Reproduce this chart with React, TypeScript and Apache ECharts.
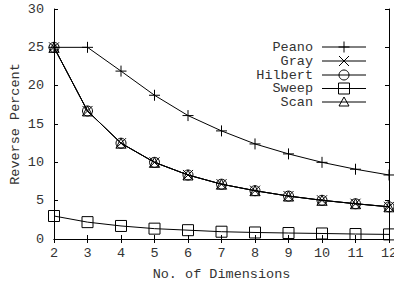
import React, { useEffect, useRef } from "react";
import * as echarts from "echarts";

const dimensions = [2, 3, 4, 5, 6, 7, 8, 9, 10, 11, 12];
const seriesNames = ["Peano", "Gray", "Hilbert", "Sweep", "Scan"];
const peano = [25, 25, 21.9, 18.75, 16.1, 14.1, 12.4, 11.1, 10, 9.1, 8.35];
const gray = [25, 16.7, 12.5, 10, 8.35, 7.15, 6.3, 5.6, 5.05, 4.6, 4.2];
const hilbert = [25, 16.7, 12.5, 10, 8.35, 7.15, 6.3, 5.6, 5.05, 4.6, 4.2];
const sweep = [3.0, 2.2, 1.7, 1.35, 1.15, 0.95, 0.85, 0.78, 0.72, 0.65, 0.6];
const scan = [25, 16.7, 12.5, 10, 8.35, 7.15, 6.3, 5.6, 5.05, 4.6, 4.2];
const yTicks = [0, 5, 10, 15, 20, 25, 30];

const FONT = "'Liberation Mono', 'DejaVu Sans Mono', monospace";
const TXT = "#333";

const symbolFor = [
  { symbol: "path://M0,5L10,5M5,0L5,10", size: 11 },
  { symbol: "path://M0,0L10,10M10,0L0,10", size: 10 },
  { symbol: "circle", size: 10 },
  { symbol: "rect", size: 11 },
  { symbol: "path://M5,0L10,9L0,9Z", size: 10 },
];

function legendMarker(i: number, cx: number, cy: number): any[] {
  const st = { stroke: "#000", fill: "none", lineWidth: 1 };
  if (i === 0)
    return [
      { type: "line", shape: { x1: cx - 5.5, y1: cy, x2: cx + 5.5, y2: cy }, style: st },
      { type: "line", shape: { x1: cx, y1: cy - 5.5, x2: cx, y2: cy + 5.5 }, style: st },
    ];
  if (i === 1)
    return [
      { type: "line", shape: { x1: cx - 5, y1: cy - 5, x2: cx + 5, y2: cy + 5 }, style: st },
      { type: "line", shape: { x1: cx + 5, y1: cy - 5, x2: cx - 5, y2: cy + 5 }, style: st },
    ];
  if (i === 2) return [{ type: "circle", shape: { cx, cy, r: 5 }, style: st }];
  if (i === 3) return [{ type: "rect", shape: { x: cx - 5.5, y: cy - 5.5, width: 11, height: 11 }, style: st }];
  return [
    {
      type: "polygon",
      shape: { points: [[cx, cy - 5], [cx + 5, cy + 4], [cx - 5, cy + 4]] },
      style: st,
    },
  ];
}

export default function App() {
  const ref = useRef<HTMLDivElement>(null);
  useEffect(() => {
    const chart = echarts.init(ref.current!, null, { renderer: "svg" });
    const allData = [peano, gray, hilbert, sweep, scan];
    const legendRows = [47, 61, 75, 88.5, 102];
    const graphics: any[] = [];
    seriesNames.forEach((name, i) => {
      const y = legendRows[i];
      graphics.push({
        type: "text",
        x: 313,
        y,
        style: { text: name, font: `13.5px ${FONT}`, fill: TXT, align: "right", verticalAlign: "middle" },
      });
      graphics.push({
        type: "line",
        shape: { x1: 322, y1: y, x2: 366, y2: y },
        style: { stroke: "#000", lineWidth: 1 },
      });
      legendMarker(i, 344, y).forEach((g) => graphics.push(g));
    });

    const axisCommon = {
      type: "value" as const,
      axisLine: { show: true, lineStyle: { color: "#000", width: 1 } },
      axisTick: { show: true, inside: true, length: 4, lineStyle: { color: "#000" } },
      splitLine: { show: false },
    };

    chart.setOption({
      animation: false,
      backgroundColor: "#fff",
      grid: { left: 54, right: 5, top: 9, bottom: 44, containLabel: false, outerBoundsMode: "none" },
      graphic: graphics,
      xAxis: [
        {
          ...axisCommon,
          min: 2,
          max: 12,
          interval: 1,
          name: "No. of Dimensions",
          nameLocation: "middle",
          nameGap: 28,
          nameMoveOverlap: false,
          nameTextStyle: { fontFamily: FONT, fontSize: 13.5, color: TXT },
          axisLabel: { fontFamily: FONT, fontSize: 13.5, color: TXT, margin: 7 },
        },
        {
          ...axisCommon,
          position: "top",
          min: 2,
          max: 12,
          interval: 1,
          axisLabel: { show: false },
        },
      ],
      yAxis: [
        {
          ...axisCommon,
          min: yTicks[0],
          max: yTicks[yTicks.length - 1],
          interval: 5,
          name: "Reverse Percent",
          nameLocation: "middle",
          nameGap: 32,
          nameMoveOverlap: false,
          nameTextStyle: { fontFamily: FONT, fontSize: 13.5, color: TXT },
          axisLabel: { fontFamily: FONT, fontSize: 13.5, color: TXT, margin: 10 },
        },
        {
          ...axisCommon,
          position: "right",
          min: yTicks[0],
          max: yTicks[yTicks.length - 1],
          interval: 5,
          axisLabel: { show: false },
        },
      ],
      series: seriesNames.map((name, i) => ({
        name,
        type: "line",
        data: dimensions.map((d, j) => [d, allData[i][j]]),
        symbol: symbolFor[i].symbol,
        symbolSize: symbolFor[i].size,
        showAllSymbol: true,
        lineStyle: { color: "#000", width: 1 },
        itemStyle: { color: "none", borderColor: "#000", borderWidth: 1 },
        emphasis: { disabled: true },
        z: 2 + i,
      })),
    });
    return () => chart.dispose();
  }, []);
  return (
    <div
      ref={ref}
      style={{ position: "fixed", left: 0, top: 0, width: 394, height: 283 }}
    />
  );
}
